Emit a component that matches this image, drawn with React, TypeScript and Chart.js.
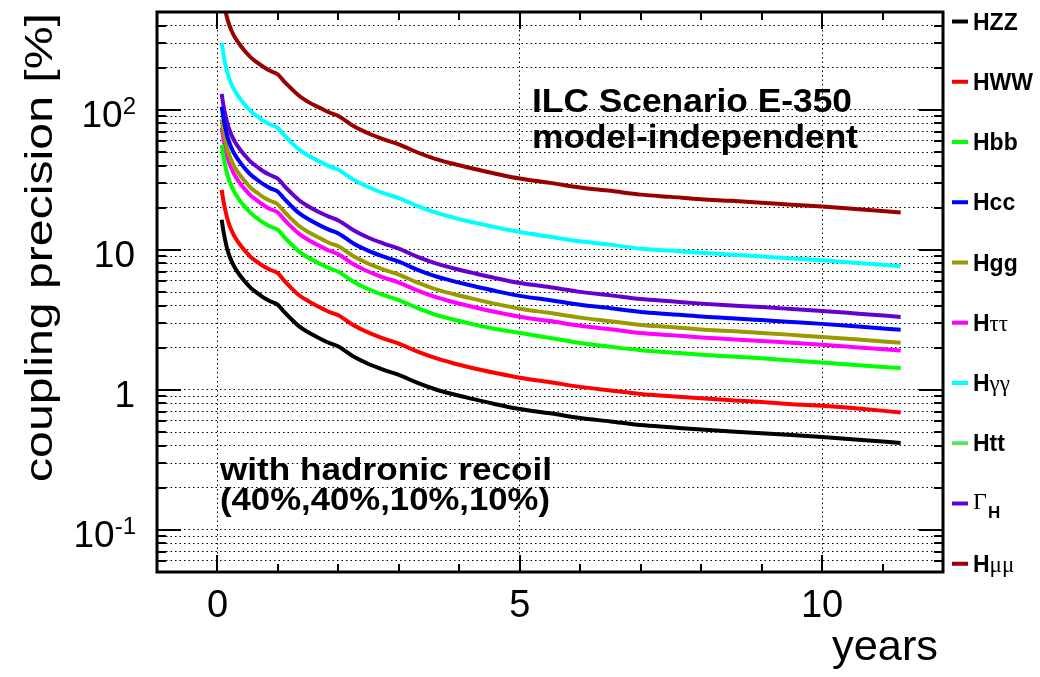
import React, { useEffect, useRef } from 'react';
import { Chart, registerables } from 'chart.js';

Chart.register(...registerables);

// ---- data ----
const years = [0.07, 0.1, 0.13, 0.16, 0.2, 0.25, 0.3, 0.38, 0.46, 0.55, 0.65, 0.75, 0.87, 1.0, 1.1, 1.2, 1.35, 1.5, 1.7, 1.85, 2.0, 2.25, 2.5, 2.75, 3.0, 3.3, 3.6, 3.9, 4.2, 4.6, 5.0, 5.5, 6.0, 6.5, 7.0, 7.5, 8.0, 8.5, 9.0, 9.5, 10.0, 10.6, 11.3];

const hzz = [16.4, 13.5, 11.6, 10.2, 9.0, 8.0, 7.3, 6.5, 5.9, 5.35, 4.95, 4.6, 4.3, 4.05, 3.62, 3.27, 2.84, 2.58, 2.32, 2.16, 2.04, 1.73, 1.53, 1.39, 1.28, 1.125, 1.01, 0.93, 0.865, 0.79, 0.73, 0.68, 0.63, 0.595, 0.56, 0.54, 0.52, 0.505, 0.49, 0.475, 0.46, 0.44, 0.418];
const hww = [26.8, 22.2, 19.2, 16.9, 14.9, 13.3, 12.1, 10.8, 9.8, 8.9, 8.25, 7.7, 7.2, 6.8, 6.05, 5.45, 4.74, 4.31, 3.87, 3.6, 3.41, 2.89, 2.56, 2.32, 2.14, 1.88, 1.69, 1.55, 1.44, 1.32, 1.22, 1.135, 1.05, 0.99, 0.935, 0.9, 0.87, 0.843, 0.82, 0.79, 0.77, 0.735, 0.69];
const hbb = [56.1, 46.2, 39.7, 34.9, 30.8, 27.4, 25.0, 22.2, 20.2, 18.3, 16.9, 15.7, 14.7, 13.9, 12.4, 11.2, 9.71, 8.82, 7.93, 7.39, 6.98, 5.92, 5.23, 4.75, 4.38, 3.85, 3.45, 3.18, 2.96, 2.72, 2.55, 2.35, 2.16, 2.03, 1.92, 1.85, 1.78, 1.73, 1.68, 1.62, 1.57, 1.5, 1.43];
const hcc = [105.5, 86.8, 74.6, 65.6, 57.9, 51.4, 46.9, 41.8, 37.9, 34.4, 31.8, 29.6, 27.6, 26.0, 23.3, 21.0, 18.3, 16.6, 14.9, 13.9, 13.1, 11.1, 9.84, 8.94, 8.23, 7.23, 6.49, 5.98, 5.56, 5.08, 4.69, 4.37, 4.05, 3.83, 3.6, 3.47, 3.34, 3.25, 3.15, 3.05, 2.96, 2.83, 2.69];
const hgg = [85.3, 70.2, 60.3, 53.0, 46.8, 41.6, 38.0, 33.8, 30.7, 27.8, 25.7, 23.9, 22.4, 21.1, 18.8, 17.0, 14.8, 13.4, 12.1, 11.2, 10.6, 9.0, 7.96, 7.23, 6.66, 5.85, 5.25, 4.84, 4.5, 4.11, 3.8, 3.54, 3.28, 3.09, 2.91, 2.81, 2.7, 2.63, 2.55, 2.47, 2.39, 2.29, 2.17];
const htautau = [74.8, 61.6, 52.9, 46.5, 41.0, 36.5, 33.3, 29.6, 26.9, 24.4, 22.6, 21.0, 19.6, 18.5, 16.5, 14.9, 13.0, 11.8, 10.6, 9.85, 9.3, 7.89, 6.98, 6.34, 5.84, 5.13, 4.61, 4.24, 3.94, 3.6, 3.33, 3.1, 2.87, 2.71, 2.55, 2.46, 2.37, 2.3, 2.23, 2.17, 2.1, 2.01, 1.91];
const hgamgam = [300, 247, 212, 187, 165, 146, 134, 119, 108, 97.9, 90.6, 84.2, 78.7, 74.1, 66.2, 59.8, 52.0, 47.2, 42.5, 39.5, 37.3, 31.7, 28.0, 25.4, 23.4, 20.6, 18.5, 17.0, 15.8, 14.5, 13.4, 12.4, 11.5, 10.9, 10.2, 9.88, 9.52, 9.24, 8.97, 8.69, 8.42, 8.05, 7.65];
const gammaH = [130, 107, 92.2, 81.1, 71.6, 63.6, 58.0, 51.7, 46.9, 42.5, 39.4, 36.6, 34.2, 32.2, 28.8, 26.0, 22.6, 20.5, 18.4, 17.2, 16.2, 13.8, 12.2, 11.1, 10.2, 8.94, 8.03, 7.39, 6.88, 6.28, 5.8, 5.41, 5.01, 4.73, 4.45, 4.29, 4.13, 4.01, 3.9, 3.78, 3.66, 3.5, 3.32];
const hmumu = [727, 598, 514, 452, 399, 354, 323, 288, 261, 237, 219, 204, 190, 179, 160, 145, 126, 114, 103, 95.7, 90.4, 76.6, 67.8, 61.6, 56.7, 49.8, 44.7, 41.2, 38.3, 35.0, 32.3, 30.1, 27.9, 26.4, 24.8, 23.9, 23.0, 22.4, 21.7, 21.0, 20.4, 19.5, 18.5];

const seriesNames = ['HZZ', 'HWW', 'Hbb', 'Hcc', 'Hgg', 'Hττ', 'Hγγ', 'ΓH', 'Hμμ'];
const seriesValues = [hzz, hww, hbb, hcc, hgg, htautau, hgamgam, gammaH, hmumu];
const seriesColors = ['#000000', '#ff0000', '#00ff00', '#0000ff', '#999900', '#ff00ff', '#00ffff', '#6600cc', '#990000'];

// legend (Htt has no curve in this scenario)
const legendColors = ['#000000', '#ff0000', '#00ff00', '#0000ff', '#999900', '#ff00ff', '#00ffff', '#66dd66', '#6600cc', '#990000'];
const legendParts: { t: string; k: 'b' | 'g' | 'G' | 's' }[][] = [
  [{ t: 'HZZ', k: 'b' }],
  [{ t: 'HWW', k: 'b' }],
  [{ t: 'Hbb', k: 'b' }],
  [{ t: 'Hcc', k: 'b' }],
  [{ t: 'Hgg', k: 'b' }],
  [{ t: 'H', k: 'b' }, { t: 'ττ', k: 'g' }],
  [{ t: 'H', k: 'b' }, { t: 'γγ', k: 'g' }],
  [{ t: 'Htt', k: 'b' }],
  [{ t: 'Γ', k: 'G' }, { t: 'H', k: 's' }],
  [{ t: 'H', k: 'b' }, { t: 'μμ', k: 'g' }],
];

const xTickValues = [0, 5, 10];
const xTickLabels = ['0', '5', '10'];
const xMinorTicks = [1, 2, 3, 4, 6, 7, 8, 9, 11];
const yMajorValues = [0.1, 1, 10, 100];
const yTickBase = ['10', '1', '10', '10'];
const yTickExp = ['-1', '', '', '2'];
const yDecades = [0.01, 0.1, 1, 10, 100];
const yMultipliers = [1, 2, 3, 4, 5, 6, 7, 8, 9];

const titleY = 'coupling precision [%]';
const titleX = 'years';
const noteTop = ['ILC Scenario E-350', 'model-independent'];
const noteBottom = ['with hadronic recoil', '(40%,40%,10%,10%)'];

const SANS = '"Liberation Sans", Arial, Helvetica, sans-serif';
const SERIF = '"Liberation Serif", "DejaVu Serif", serif';

const yGridValues: number[] = [];
yDecades.forEach((d) => yMultipliers.forEach((m) => {
  const v = Math.round(d * m * 1000) / 1000;
  if (v > 0.05 && v < 500) yGridValues.push(v);
}));

function drawText(ctx: CanvasRenderingContext2D, text: string, x: number, y: number, font: string, width?: number, align: 'left' | 'right' | 'center' = 'left') {
  ctx.save();
  ctx.font = font;
  ctx.textBaseline = 'alphabetic';
  ctx.textAlign = 'left';
  const w = ctx.measureText(text).width;
  const sx = width ? width / w : 1;
  const realW = w * sx;
  let x0 = x;
  if (align === 'right') x0 = x - realW;
  if (align === 'center') x0 = x - realW / 2;
  ctx.translate(x0, y);
  ctx.scale(sx, 1);
  ctx.fillText(text, 0, 0);
  ctx.restore();
}

export default function App() {
  const ref = useRef<HTMLCanvasElement>(null);

  useEffect(() => {
    const canvas = ref.current!;

    const rootStyle = {
      id: 'rootStyle',
      afterDatasetsDraw(chart: any) {
        const ctx: CanvasRenderingContext2D = chart.ctx;
        const { left, right, top, bottom } = chart.chartArea;
        const xs = chart.scales.x;
        const ys = chart.scales.y;
        ctx.save();
        ctx.fillStyle = '#000';
        ctx.strokeStyle = '#000';

        // ticks
        ctx.lineWidth = 2;
        ctx.beginPath();
        yGridValues.forEach((v) => {
          const p = Math.round(ys.getPixelForValue(v));
          const major = yMajorValues.some((m) => Math.abs(m - v) < 1e-9);
          const len = major ? 24 : 9;
          ctx.moveTo(left, p); ctx.lineTo(left + len, p);
          ctx.moveTo(right, p); ctx.lineTo(right - len, p);
        });
        xTickValues.forEach((v) => {
          const p = Math.round(xs.getPixelForValue(v));
          ctx.moveTo(p, bottom); ctx.lineTo(p, bottom - 17);
          ctx.moveTo(p, top); ctx.lineTo(p, top + 17);
        });
        xMinorTicks.forEach((v) => {
          const p = Math.round(xs.getPixelForValue(v));
          ctx.moveTo(p, bottom); ctx.lineTo(p, bottom - 8);
          ctx.moveTo(p, top); ctx.lineTo(p, top + 8);
        });
        ctx.stroke();

        // frame
        ctx.lineWidth = 3;
        ctx.strokeRect(left, top, right - left, bottom - top);

        // x tick labels
        xTickValues.forEach((v, i) => {
          drawText(ctx, xTickLabels[i], xs.getPixelForValue(v), 617, `38px ${SANS}`, undefined, 'center');
        });

        // y tick labels
        yMajorValues.forEach((v, i) => {
          const p = ys.getPixelForValue(v);
          const base = yTickBase[i];
          const ex = yTickExp[i];
          ctx.font = `37px ${SANS}`;
          const wb = ctx.measureText(base).width;
          ctx.font = `24px ${SANS}`;
          const we = ex ? ctx.measureText(ex).width : 0;
          const rightEdge = ex ? 136 : 135;
          const x0 = rightEdge - wb - we;
          drawText(ctx, base, x0, p + 17.5, `37px ${SANS}`);
          if (ex) drawText(ctx, ex, x0 + wb, p + 4, `24px ${SANS}`);
        });

        // axis titles
        ctx.save();
        ctx.translate(52, 482);
        ctx.rotate(-Math.PI / 2);
        drawText(ctx, titleY, 0, 0, `38px ${SANS}`, 469);
        ctx.restore();
        drawText(ctx, titleX, 938, 660, `42px ${SANS}`, 106, 'right');

        // annotations
        drawText(ctx, noteTop[0], 532, 112, `bold 34px ${SANS}`, 320);
        drawText(ctx, noteTop[1], 532, 148, `bold 34px ${SANS}`, 326);
        drawText(ctx, noteBottom[0], 220, 480, `bold 31px ${SANS}`, 332);
        drawText(ctx, noteBottom[1], 220, 510, `bold 31px ${SANS}`, 330);

        // legend
        legendParts.forEach((parts, i) => {
          const cy = 21.5 + i * 60.25;
          ctx.strokeStyle = legendColors[i];
          ctx.lineWidth = 4;
          ctx.beginPath();
          ctx.moveTo(952, cy); ctx.lineTo(968, cy);
          ctx.stroke();
          let x = 973;
          parts.forEach((pt) => {
            let font = `bold 23px ${SANS}`;
            let by = cy + 8;
            if (pt.k === 'g') font = `23px ${SERIF}`;
            if (pt.k === 'G') { font = `24px ${SERIF}`; by = cy + 5; }
            if (pt.k === 's') { font = `bold 17px ${SANS}`; by = cy + 14; x += 1; }
            ctx.font = font;
            ctx.fillStyle = '#000';
            ctx.textAlign = 'left';
            ctx.textBaseline = 'alphabetic';
            ctx.fillText(pt.t, x, by);
            x += ctx.measureText(pt.t).width;
          });
        });

        ctx.restore();
      },
    };

    const chart = new Chart(canvas, {
      type: 'line',
      data: {
        datasets: seriesNames.map((name, si) => ({
          label: name,
          data: years.map((x, i) => ({ x, y: seriesValues[si][i] })),
          borderColor: seriesColors[si],
          backgroundColor: seriesColors[si],
          borderWidth: 4,
          pointRadius: 0,
          fill: false,
          cubicInterpolationMode: 'monotone',
          borderJoinStyle: 'round',
          clip: 0,
        })),
      },
      options: {
        animation: false,
        responsive: true,
        maintainAspectRatio: false,
        devicePixelRatio: 1,
        events: [],
        layout: { padding: { top: 12, right: 97, left: 0, bottom: 0 } },
        plugins: { legend: { display: false }, tooltip: { enabled: false } },
        scales: {
          x: {
            type: 'linear',
            min: -1,
            max: 12,
            ticks: { display: false },
            grid: { color: '#000', lineWidth: 1, drawTicks: false },
            border: { display: false, dash: [1.5, 3] },
            afterBuildTicks: (s: any) => { s.ticks = xTickValues.map((v) => ({ value: v })); },
            afterFit: (s: any) => { s.height = 105; },
          },
          y: {
            type: 'logarithmic',
            min: 0.05,
            max: 500,
            ticks: { display: false },
            grid: { color: '#000', lineWidth: 1, drawTicks: false },
            border: { display: false, dash: [1.5, 3] },
            afterBuildTicks: (s: any) => { s.ticks = yGridValues.map((v) => ({ value: v })); },
            afterFit: (s: any) => { s.width = 157; },
          },
        },
      } as any,
      plugins: [rootStyle],
    });

    return () => chart.destroy();
  }, []);

  return (
    <div style={{ position: 'fixed', left: 0, top: 0, width: 1040, height: 677, background: '#fff' }}>
      <canvas ref={ref} />
    </div>
  );
}
